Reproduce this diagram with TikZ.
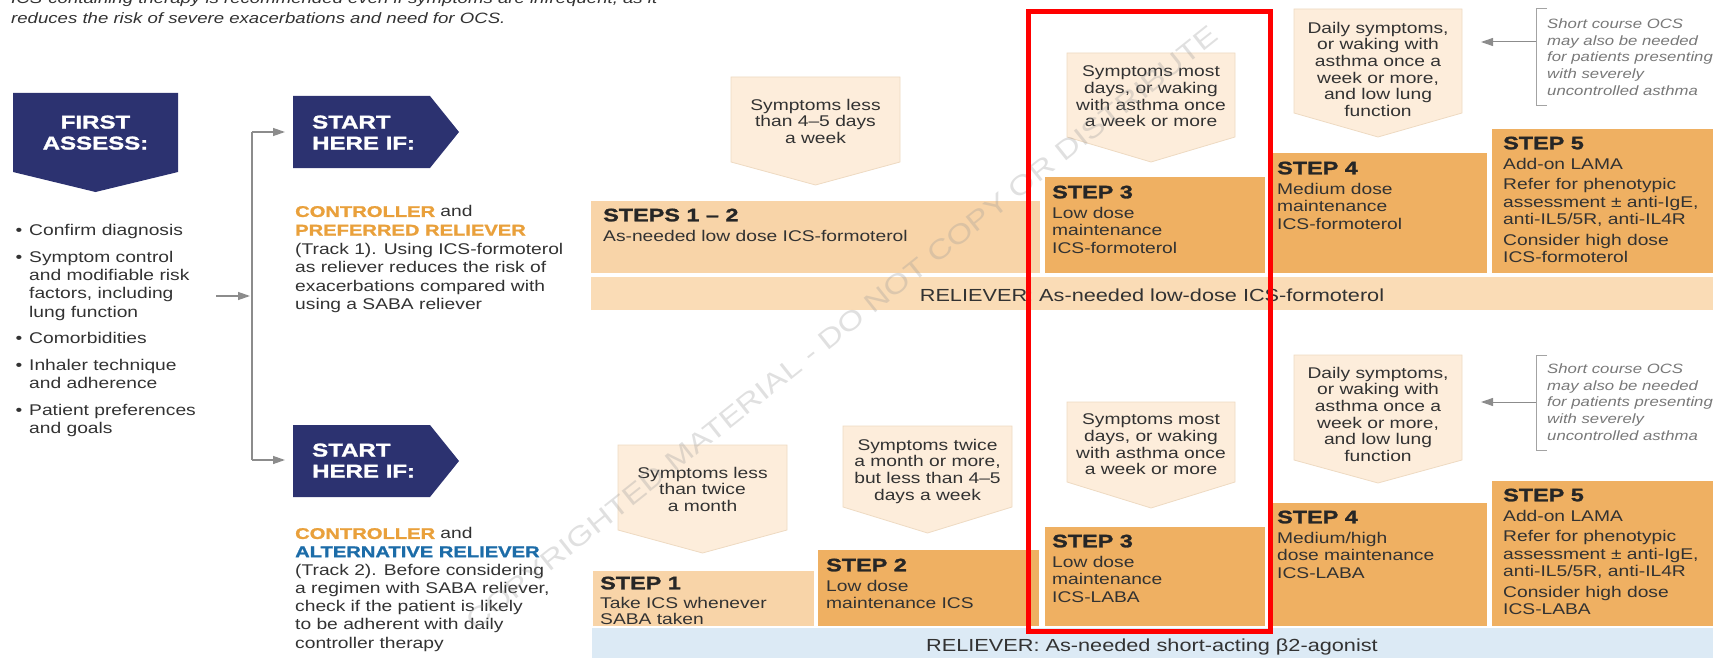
\documentclass[tikz,border=0pt]{standalone}
\usepackage{fontspec}
\setmainfont{Liberation Sans}[FakeStretch=1.24]
\newfontfamily\blackfont{Liberation Sans}[FakeStretch=1.3,BoldFeatures={FakeBold=1.5}]
\usetikzlibrary{arrows.meta,positioning}

\definecolor{navy}{RGB}{44,50,112}
\definecolor{peach}{RGB}{253,237,219}
\definecolor{peachline}{RGB}{238,218,194}
\definecolor{lightstep}{RGB}{248,212,168}
\definecolor{darkstep}{RGB}{239,176,98}
\definecolor{relbar}{RGB}{250,220,182}
\definecolor{bluebar}{RGB}{220,234,245}
\definecolor{ctrlorange}{RGB}{233,160,59}
\definecolor{altblue}{RGB}{28,108,168}
\definecolor{txt}{RGB}{50,50,50}
\definecolor{wire}{RGB}{140,140,140}
\definecolor{ocsgrey}{RGB}{120,120,120}

\newcommand{\hvy}[1]{{\blackfont\bfseries #1}}

\tikzset{
  note/.style={anchor=base west,inner sep=0pt,text=txt,
    font=\fontsize{15}{18}\selectfont\itshape},
  navytext/.style={inner sep=0pt,text=white,
    font=\blackfont\bfseries\fontsize{18.5}{21}\selectfont},
  item/.style={anchor=north west,inner sep=0pt,align=left,text=txt,
    font=\fontsize{15.5}{18.3}\selectfont},
  track/.style={anchor=north west,inner sep=0pt,align=left,text=txt,
    font=\fontsize{15.5}{18.6}\selectfont},
  sympoly/.style={fill=peach,draw=peachline,line width=0.8pt},
  symtext/.style={anchor=north,inner sep=0pt,align=center,text=txt,
    font=\fontsize{15.5}{16.7}\selectfont},
  stephead/.style={anchor=north west,inner sep=0pt,text=black!85,
    font=\blackfont\bfseries\fontsize{18}{21}\selectfont},
  stepbody/.style={inner sep=0pt,align=left,text=txt,
    font=\fontsize{15.5}{17.5}\selectfont},
  reltext/.style={anchor=base,inner sep=0pt,text=txt,
    font=\fontsize{17.5}{20}\selectfont},
  ocs/.style={anchor=north west,inner sep=0pt,align=left,text=ocsgrey,
    font=\fontsize{13.5}{16.7}\selectfont\itshape},
  wireline/.style={draw=wire,line width=1.3pt},
  conn/.style={wireline,-{Triangle[length=12pt,width=8pt]}},
  bracket/.style={draw=wire!80,line width=1pt},
  wmark/.style={inner sep=0pt,text=black!40,text opacity=0.3,
    font=\fontsize{27}{30}\selectfont},
}

\begin{document}
\begin{tikzpicture}[x=1pt,y=-1pt]
\useasboundingbox (0,0) rectangle (1726,658);
%
% note above the chart
  \node[note] (note1) at (11,4)
    {ICS-containing therapy is recommended even if symptoms are infrequent, as it};
  \node[note] (note2) at (11,24)
    {reduces the risk of severe exacerbations and need for OCS.};
%
% left column
  \fill[navy] (13,93) -- (178,93) -- (178,172) -- (95.5,192) -- (13,172) -- cycle;
  \node[navytext,anchor=north,align=center] (assess) at (95.5,115.4) {FIRST\\ASSESS:};
%
  \foreach \y/\t [count=\i] in {230/{Confirm diagnosis},
      257/{Symptom control\\and modifiable risk\\factors, including\\lung function},
      338/{Comorbidities}, 365/{Inhaler technique\\and adherence},
      410/{Patient preferences\\and goals}} {
    \node[item] (item\i) at (29,\y-6.3) {\t};
    \node[item,anchor=base] (dot\i) at (19,\y+5) {\textbullet};
  }
%
% start boxes
  \fill[navy] (293,96) -- (430,96) -- (459,132) -- (430,168) -- (293,168) -- cycle;
  \node[navytext,anchor=north west,align=left] (start1) at (312,115.4) {START\\HERE IF:};
  \fill[navy] (293,425) -- (430,425) -- (459,461) -- (430,497) -- (293,497) -- cycle;
  \node[navytext,anchor=north west,align=left] (start2) at (312,443.4) {START\\HERE IF:};
%
  \node[track] (track1) at (295,205.5)
    {\textcolor{ctrlorange}{\hvy{CONTROLLER}} and\\
     \textcolor{ctrlorange}{\hvy{PREFERRED RELIEVER}}\\
     (Track 1). Using ICS-formoterol\\as reliever reduces the risk of\\
     exacerbations compared with\\using a SABA reliever};
  \node[track,font=\fontsize{15.5}{18.2}\selectfont] (track2) at (295,527.5)
    {\textcolor{ctrlorange}{\hvy{CONTROLLER}} and\\
     \textcolor{altblue}{\hvy{ALTERNATIVE RELIEVER}}\\
     (Track 2). Before considering\\a regimen with SABA reliever,\\
     check if the patient is likely\\to be adherent with daily\\controller therapy};
%
% connectors
  \coordinate (fork1) at (252,132);
  \coordinate (fork2) at (252,460);
  \coordinate (in1) at (285,132);
  \coordinate (in2) at (285,460);
  \coordinate (from) at (216,296);
  \coordinate (join) at (250,296);
  \draw[wireline] (fork1) -- (fork2);
  \draw[conn] (fork1) -- (in1);
  \draw[conn] (fork2) -- (in2);
  \draw[conn] (from) -- (join);
%
% relievers
  \fill[relbar] (591,277) rectangle (1713,310);
  \fill[bluebar] (592,628) rectangle (1713,670);
  \node[reltext] (rel1) at (1152,301.3) {RELIEVER: As-needed low-dose ICS-formoterol};
  \node[reltext] (rel2) at (1152,651.3) {RELIEVER: As-needed short-acting β2-agonist};
%
% step boxes
  \foreach \xa/\xb/\ya/\yb/\col in {591/1040/201/273/lightstep,
      1045/1265/177/273/darkstep, 1273/1487/153/273/darkstep,
      1492/1713/129/273/darkstep, 593/814/571/626/lightstep,
      818/1039/550/626/darkstep, 1045/1265/527/626/darkstep,
      1273/1487/503/626/darkstep, 1492/1713/481/626/darkstep}
    \fill[\col] (\xa,\ya) rectangle (\xb,\yb);
%
% symptom arrows
  \foreach \nm/\xa/\xb/\ya/\yb/\yc/\yt/\txt in {
      a1/731/900/77/162/185/98.7/{Symptoms less\\than 4–5 days\\a week},
      a3/1067/1235/53/137/162/65.7/{Symptoms most\\days, or waking\\with asthma once\\a week or more},
      a4/1294/1462/9/113/137/21.7/{Daily symptoms,\\or waking with\\asthma once a\\week or more,\\and low lung\\function},
      b1/618/787/445/530/553/466.7/{Symptoms less\\than twice\\a month},
      b2/843/1012/426/507/533/438.7/{Symptoms twice\\a month or more,\\but less than 4–5\\days a week},
      b3/1067/1235/402/482/508/413.7/{Symptoms most\\days, or waking\\with asthma once\\a week or more},
      b4/1294/1462/355/460/483/366.7/{Daily symptoms,\\or waking with\\asthma once a\\week or more,\\and low lung\\function}} {
    \draw[sympoly] (\xa,\ya) -- (\xb,\ya) -- (\xb,\yb) -- ({(\xa+\xb)/2},\yc)
      -- (\xa,\yb) -- cycle;
    \node[symtext] (\nm) at ({(\xa+\xb)/2},\yt) {\txt};
  }
%
% track 1 steps
  \node[stephead] (h12) at (603,208.5) {STEPS 1 – 2};
  \node[stepbody,below right=8pt and 0pt of h12.south west] (b12)
    {As-needed low dose ICS-formoterol};
  \node[stephead] (h3a) at (1052,185.5) {STEP 3};
  \node[stepbody,below right=8pt and 0pt of h3a.south west] (b3a)
    {Low dose\\maintenance\\ICS-formoterol};
  \node[stephead] (h4a) at (1277,161.5) {STEP 4};
  \node[stepbody,below right=8pt and 0pt of h4a.south west] (b4a)
    {Medium dose\\maintenance\\ICS-formoterol};
  \node[stephead] (h5a) at (1503,136.5) {STEP 5};
  \node[stepbody,below right=8pt and 0pt of h5a.south west] (b5a)
    {Add-on LAMA\\[3pt]Refer for phenotypic\\assessment ± anti-IgE,\\
     anti-IL5/5R, anti-IL4R\\[3pt]Consider high dose\\ICS-formoterol};
%
% track 2 steps
  \node[stephead] (h1) at (600,576.5) {STEP 1};
  \node[stepbody,font=\fontsize{15.5}{16}\selectfont,
        below right=7pt and 0pt of h1.south west] (b1)
    {Take ICS whenever\\SABA taken};
  \node[stephead] (h2) at (826,558.5) {STEP 2};
  \node[stepbody,below right=8pt and 0pt of h2.south west] (b2)
    {Low dose\\maintenance ICS};
  \node[stephead] (h3b) at (1052,534.5) {STEP 3};
  \node[stepbody,below right=8pt and 0pt of h3b.south west] (b3b)
    {Low dose\\maintenance\\ICS-LABA};
  \node[stephead] (h4b) at (1277,510.5) {STEP 4};
  \node[stepbody,below right=8pt and 0pt of h4b.south west] (b4b)
    {Medium/high\\dose maintenance\\ICS-LABA};
  \node[stephead] (h5b) at (1503,488.5) {STEP 5};
  \node[stepbody,below right=8pt and 0pt of h5b.south west] (b5b)
    {Add-on LAMA\\[3pt]Refer for phenotypic\\assessment ± anti-IgE,\\
     anti-IL5/5R, anti-IL4R\\[3pt]Consider high dose\\ICS-LABA};
%
% OCS notes
  \draw[bracket] (1547,9) -- (1536,9) -- (1536,106) -- (1547,106);
  \node[ocs] (ocs1) at (1547,18.6)
    {Short course OCS\\may also be needed\\for patients presenting\\with severely\\uncontrolled asthma};
  \coordinate (brk1) at (1536,42);
  \coordinate (tip1) at (1481,42);
  \draw[conn,line width=1pt] (brk1) -- (tip1);
%
  \draw[bracket] (1547,355) -- (1536,355) -- (1536,450) -- (1547,450);
  \node[ocs] (ocs2) at (1547,363.6)
    {Short course OCS\\may also be needed\\for patients presenting\\with severely\\uncontrolled asthma};
  \coordinate (brk2) at (1536,402);
  \coordinate (tip2) at (1481,402);
  \draw[conn,line width=1pt] (brk2) -- (tip2);
%
% watermark and highlight
  \node[wmark,rotate=38.5] (wm) at (842,328)
    {COPYRIGHTED MATERIAL - DO NOT COPY OR DISTRIBUTE};
  \draw[red,line width=4.7pt] (1028.3,11.7) rectangle (1270.3,631.7);
%
\end{tikzpicture}
\end{document}
